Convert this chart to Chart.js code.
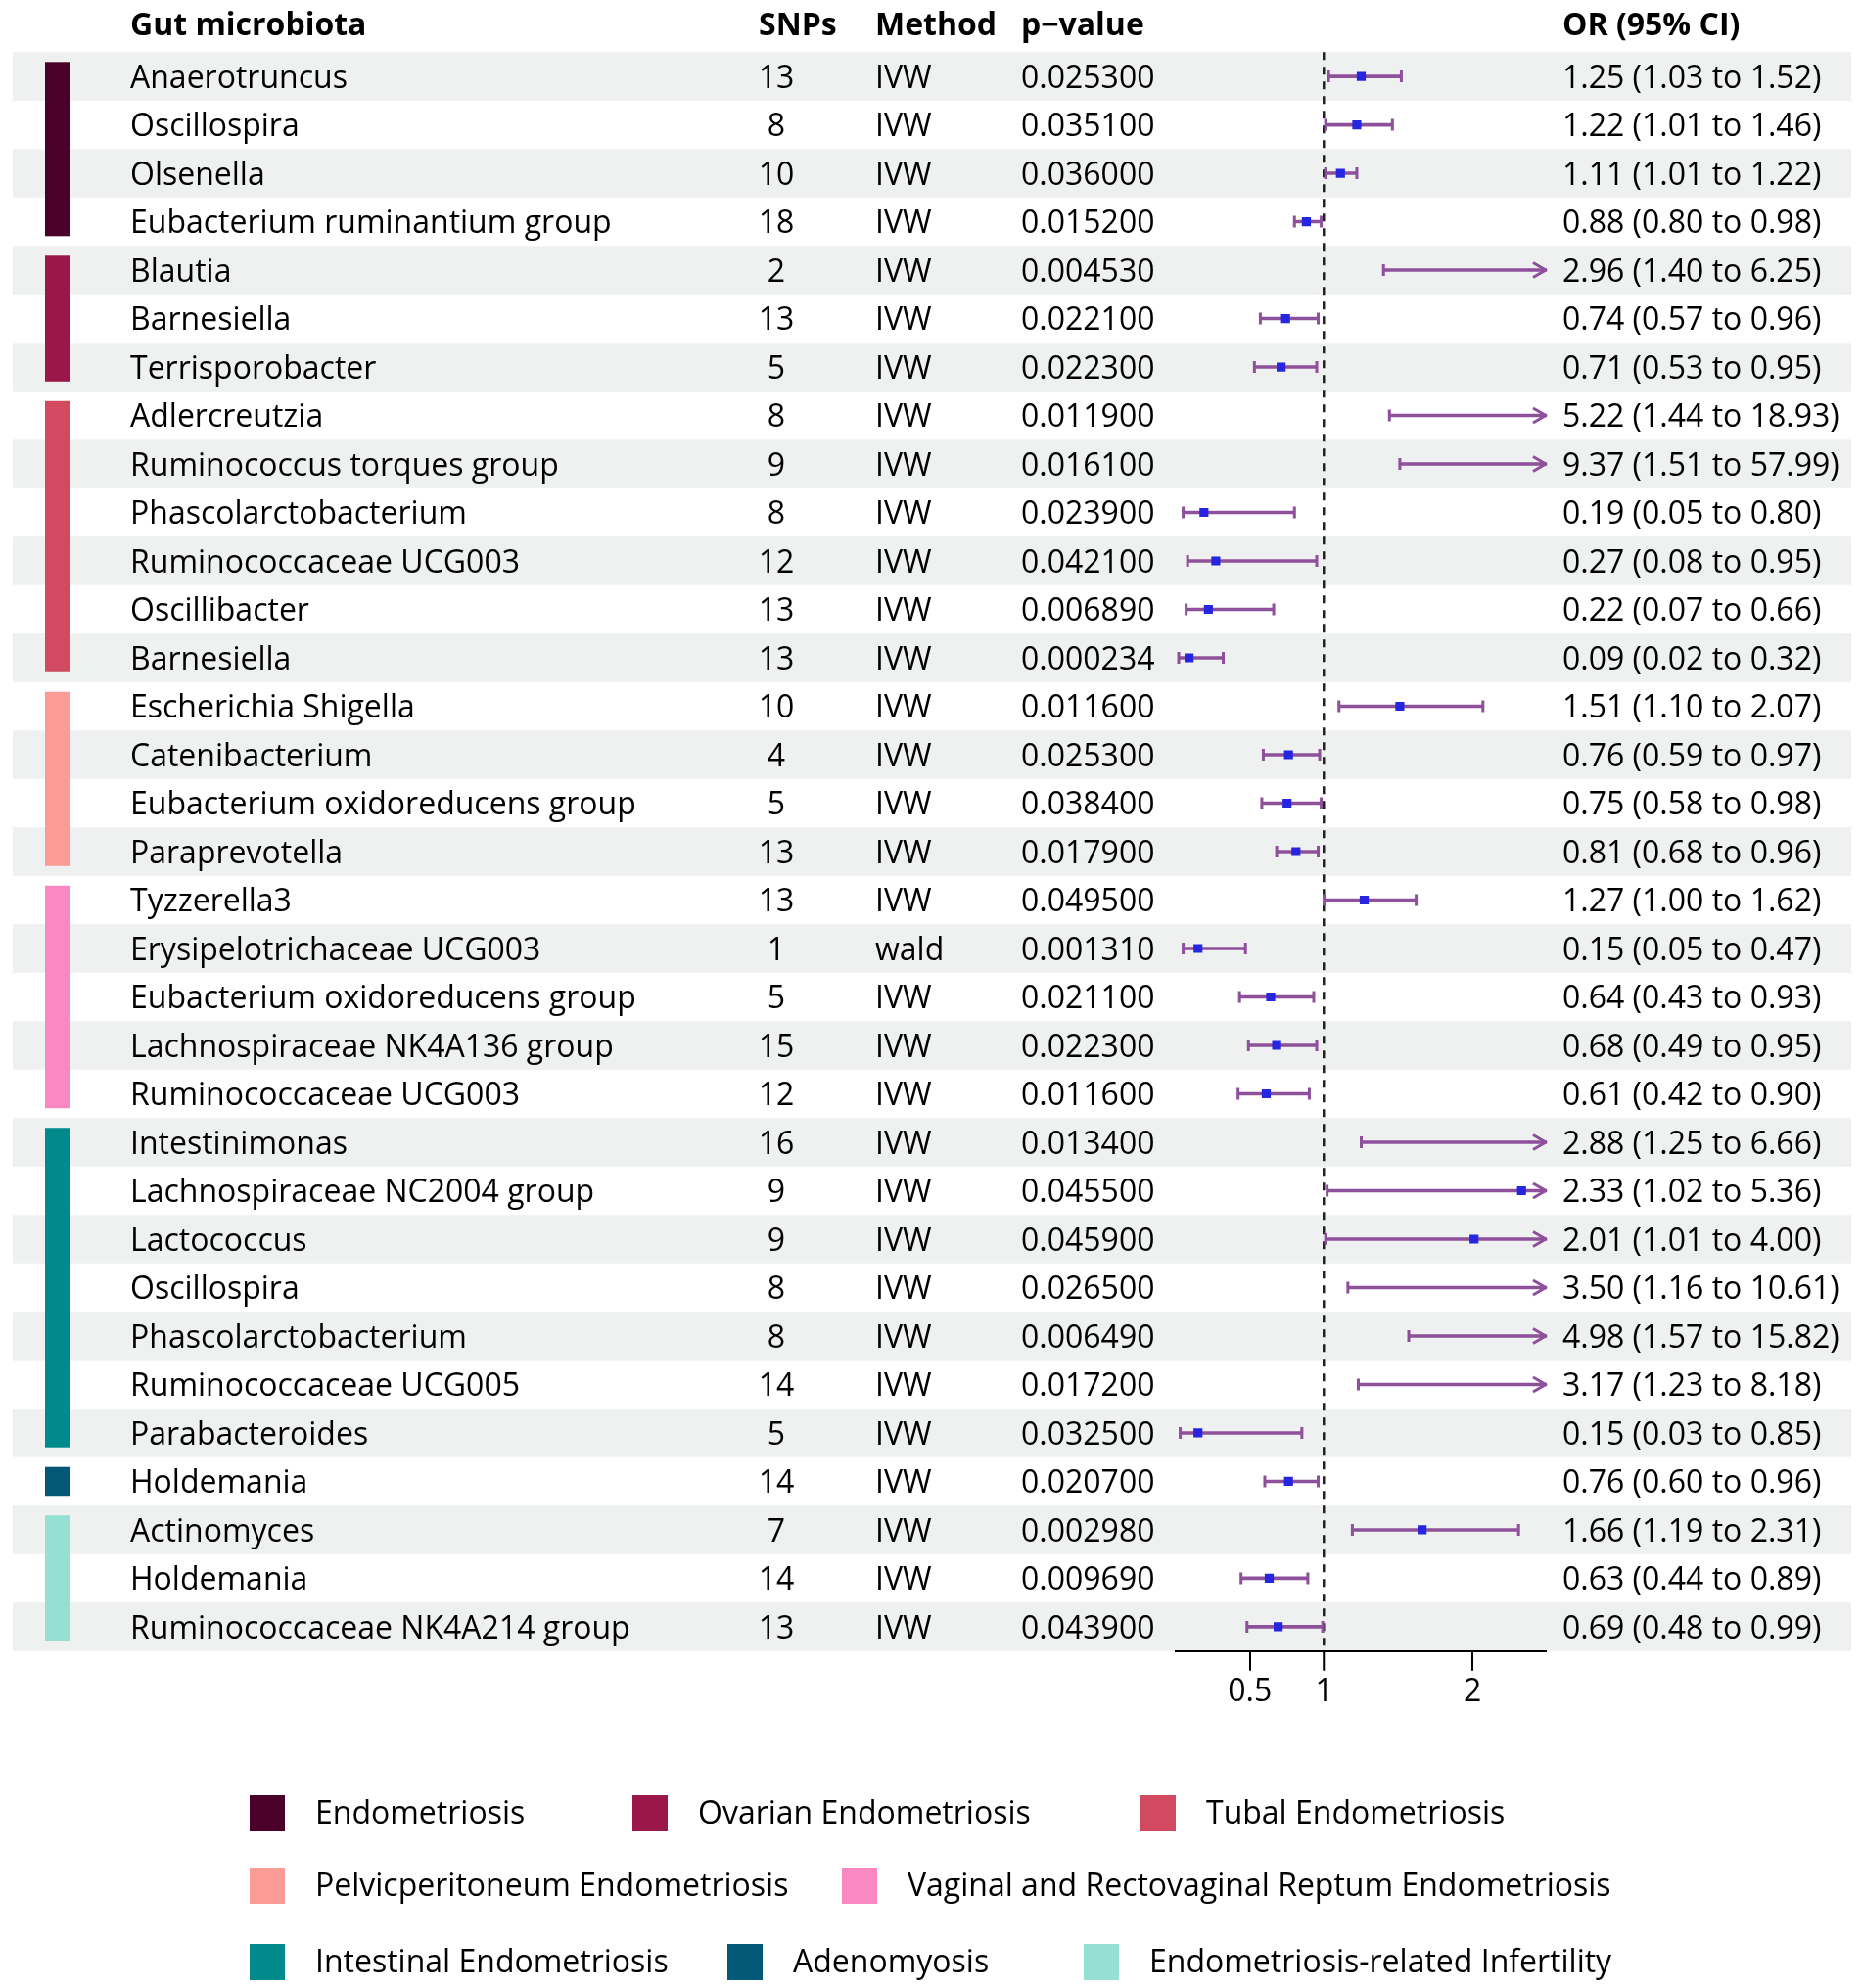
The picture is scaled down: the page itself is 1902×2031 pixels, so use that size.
<!DOCTYPE html>
<html>
<head>
<meta charset="utf-8">
<script src="https://cdn.jsdelivr.net/npm/chart.js@4.4.1/dist/chart.umd.min.js"></script>
<style>
  html, body { margin: 0; padding: 0; background: #ffffff; }
  canvas { display: block; }
</style>
</head>
<body>
<canvas id="forest" width="1902" height="2031"></canvas>
<script>
// ---------------- data ----------------
const GROUPS = [
  'Endometriosis', 'Ovarian Endometriosis', 'Tubal Endometriosis',
  'Pelvicperitoneum Endometriosis', 'Vaginal and Rectovaginal Reptum Endometriosis',
  'Intestinal Endometriosis', 'Adenomyosis', 'Endometriosis-related Infertility'
];
const GROUP_COLORS = ['#4A0028', '#9B1649', '#D24A60', '#FA9B95', '#FA88C3', '#008A8C', '#035878', '#96E0D3'];
const ROW_GROUP = [0,0,0,0, 1,1,1, 2,2,2,2,2,2, 3,3,3,3, 4,4,4,4,4, 5,5,5,5,5,5,5, 6, 7,7,7];

const NAMES = [
  'Anaerotruncus', 'Oscillospira', 'Olsenella', 'Eubacterium ruminantium group',
  'Blautia', 'Barnesiella', 'Terrisporobacter',
  'Adlercreutzia', 'Ruminococcus torques group', 'Phascolarctobacterium', 'Ruminococcaceae UCG003', 'Oscillibacter', 'Barnesiella',
  'Escherichia Shigella', 'Catenibacterium', 'Eubacterium oxidoreducens group', 'Paraprevotella',
  'Tyzzerella3', 'Erysipelotrichaceae UCG003', 'Eubacterium oxidoreducens group', 'Lachnospiraceae NK4A136 group', 'Ruminococcaceae UCG003',
  'Intestinimonas', 'Lachnospiraceae NC2004 group', 'Lactococcus', 'Oscillospira', 'Phascolarctobacterium', 'Ruminococcaceae UCG005', 'Parabacteroides',
  'Holdemania',
  'Actinomyces', 'Holdemania', 'Ruminococcaceae NK4A214 group'
];
const SNPS = [13,8,10,18, 2,13,5, 8,9,8,12,13,13, 10,4,5,13, 13,1,5,15,12, 16,9,9,8,8,14,5, 14, 7,14,13];
const METHODS = ['IVW','IVW','IVW','IVW', 'IVW','IVW','IVW', 'IVW','IVW','IVW','IVW','IVW','IVW',
  'IVW','IVW','IVW','IVW', 'IVW','wald','IVW','IVW','IVW', 'IVW','IVW','IVW','IVW','IVW','IVW','IVW',
  'IVW', 'IVW','IVW','IVW'];
const PVALUES = [0.0253,0.0351,0.036,0.0152, 0.00453,0.0221,0.0223, 0.0119,0.0161,0.0239,0.0421,0.00689,0.000234,
  0.0116,0.0253,0.0384,0.0179, 0.0495,0.00131,0.0211,0.0223,0.0116,
  0.0134,0.0455,0.0459,0.0265,0.00649,0.0172,0.0325, 0.0207, 0.00298,0.00969,0.0439];
const OR = [1.25,1.22,1.11,0.88, 2.96,0.74,0.71, 5.22,9.37,0.19,0.27,0.22,0.09,
  1.51,0.76,0.75,0.81, 1.27,0.15,0.64,0.68,0.61,
  2.88,2.33,2.01,3.50,4.98,3.17,0.15, 0.76, 1.66,0.63,0.69];
const OR_LOW = [1.03,1.01,1.01,0.80, 1.40,0.57,0.53, 1.44,1.51,0.05,0.08,0.07,0.02,
  1.10,0.59,0.58,0.68, 1.00,0.05,0.43,0.49,0.42,
  1.25,1.02,1.01,1.16,1.57,1.23,0.03, 0.60, 1.19,0.44,0.48];
const OR_HIGH = [1.52,1.46,1.22,0.98, 6.25,0.96,0.95, 18.93,57.99,0.80,0.95,0.66,0.32,
  2.07,0.97,0.98,0.96, 1.62,0.47,0.93,0.95,0.90,
  6.66,5.36,4.00,10.61,15.82,8.18,0.85, 0.96, 2.31,0.89,0.99];
const X_TICKS = [0.5, 1, 2];
const X_MIN = 0;
const X_MAX = 2.5;
const REF_VALUE = 1;
const HEADERS = ['Gut microbiota', 'SNPs', 'Method', 'p\u2212value', 'OR (95% CI)'];

// ---------------- style ----------------
const FAMILY = "'Open Sans', 'Noto Sans', sans-serif";
const FONT = { family: FAMILY, size: 32 };
const STRIPE = '#EEF1F0';
const CI_COLOR = '#8E4F9B';
const POINT_COLOR = '#2626E0';
const TEXT = '#000000';

const fmt2 = v => v.toFixed(2);
const OR_LABELS = OR.map((v, i) => `${fmt2(v)} (${fmt2(OR_LOW[i])} to ${fmt2(OR_HIGH[i])})`);
const P_LABELS = PVALUES.map(v => v.toFixed(6));
const SNP_LABELS = SNPS.map(String);

const mctx = document.createElement('canvas').getContext('2d');
mctx.font = `32px ${FAMILY}`;
const snpWidest = Math.max(...SNP_LABELS.map(s => mctx.measureText(s).width));
const SNP_CENTER = 793;

// ---------------- plugins ----------------
const rowsPlugin = {
  id: 'rows',
  beforeDraw(chart) {
    const { ctx } = chart;
    const y = chart.scales.y;
    const step = Math.abs(y.getPixelForValue(1) - y.getPixelForValue(0));
    ctx.save();
    ctx.fillStyle = STRIPE;
    NAMES.forEach((_, i) => {
      if (i % 2 === 0) {
        const c = y.getPixelForValue(i);
        ctx.fillRect(13, c - step / 2, 1878, step);
      }
    });
    GROUPS.forEach((g, gi) => {
      const rows = ROW_GROUP.map((v, i) => (v === gi ? i : -1)).filter(i => i >= 0);
      const t = y.getPixelForValue(rows[0]) - step / 2 + 10;
      const b = y.getPixelForValue(rows[rows.length - 1]) + step / 2 - 10;
      ctx.fillStyle = GROUP_COLORS[gi];
      ctx.fillRect(46, t, 25, b - t);
    });
    ctx.restore();
  }
};

const whiskerPlugin = {
  id: 'whiskers',
  afterDatasetDraw(chart, args) {
    if (args.index !== 1) return;
    const { ctx } = chart;
    const x = chart.scales.x, y = chart.scales.y;
    ctx.save();
    ctx.strokeStyle = CI_COLOR;
    ctx.lineWidth = 3;
    ctx.lineJoin = 'round';
    OR_LOW.forEach((lo, i) => {
      const yc = y.getPixelForValue(i);
      const hi = OR_HIGH[i];
      const xl = x.getPixelForValue(lo);
      ctx.beginPath();
      ctx.moveTo(xl, yc - 6);
      ctx.lineTo(xl, yc + 6);
      if (hi <= x.max) {
        const xh = x.getPixelForValue(hi);
        ctx.moveTo(xh, yc - 6);
        ctx.lineTo(xh, yc + 6);
      } else {
        const xe = x.getPixelForValue(x.max);
        ctx.moveTo(xe - 14, yc - 7.5);
        ctx.lineTo(xe - 1, yc);
        ctx.lineTo(xe - 14, yc + 7.5);
      }
      ctx.stroke();
    });
    ctx.restore();
  }
};

const overlayPlugin = {
  id: 'overlay',
  afterDraw(chart) {
    const { ctx, scales } = chart;
    ctx.save();
    ctx.fillStyle = TEXT;
    ctx.textBaseline = 'middle';
    ctx.textAlign = 'left';
    ctx.font = `bold 32px ${FAMILY}`;
    const hy = 27;
    ctx.fillText(HEADERS[0], scales.y.left, hy);
    ctx.fillText(HEADERS[1], 775, hy);
    ctx.fillText(HEADERS[2], scales.method.left, hy);
    ctx.fillText(HEADERS[3], scales.pval.left, hy);
    ctx.fillText(HEADERS[4], scales.or.left + 16, hy);

    // legend
    const items = [[0, 255, 1853], [1, 646, 1853], [2, 1165, 1853],
                   [3, 255, 1927], [4, 860, 1927],
                   [5, 255, 2005], [6, 743, 2005], [7, 1107, 2005]];
    ctx.font = `32px ${FAMILY}`;
    items.forEach(([gi, lx, ly]) => {
      ctx.fillStyle = GROUP_COLORS[gi];
      ctx.fillRect(lx, ly - 19, 36, 37);
      ctx.fillStyle = TEXT;
      ctx.fillText(GROUPS[gi], lx + 67, ly + 1);
    });
    ctx.restore();
  }
};

const catAxis = (labels, position, weight, width, crossAlign, padding) => ({
  type: 'category', axis: 'y', position, labels, offset: true, weight,
  min: 0, max: NAMES.length - 1,
  grid: { display: false, drawTicks: false, offset: true },
  border: { display: false },
  ticks: { autoSkip: false, crossAlign, padding, labelOffset: 2.5, font: FONT, color: TEXT },
  afterFit: s => {
    s.width = width;
    s.paddingTop = 0;
    s.paddingBottom = 0;
  }
});

new Chart(document.getElementById('forest'), {
  type: 'scatter',
  data: {
    datasets: [
      {
        type: 'scatter', label: 'OR',
        data: OR.map((v, i) => ({ x: v, y: i })),
        xAxisID: 'x', yAxisID: 'y',
        pointStyle: 'rect', pointRadius: 6.5, pointHoverRadius: 6.5,
        backgroundColor: POINT_COLOR, borderWidth: 0, order: 0, clip: 0
      },
      {
        type: 'bar', label: '95% CI',
        data: OR_LOW.map((lo, i) => [lo, OR_HIGH[i]]),
        indexAxis: 'y', xAxisID: 'x', yAxisID: 'y',
        backgroundColor: CI_COLOR, borderWidth: 0, barThickness: 3, order: 1, clip: 0
      }
    ]
  },
  options: {
    responsive: false,
    animation: false,
    devicePixelRatio: 1,
    events: [],
    layout: { padding: { left: 133, top: 53.3, right: 0, bottom: 244.3 } },
    plugins: { legend: { display: false }, tooltip: { enabled: false } },
    scales: {
      x: {
        type: 'linear', position: 'bottom', min: X_MIN, max: X_MAX, offset: false,
        afterBuildTicks: s => { s.ticks = X_TICKS.map(v => ({ value: v })); },
        ticks: { font: FONT, color: TEXT, padding: 3, autoSkip: false, maxRotation: 0, callback: v => String(v) },
        grid: {
          display: true, drawOnChartArea: true, offset: false,
          color: c => (c.tick && c.tick.value === REF_VALUE) ? '#222222' : 'rgba(0,0,0,0)',
          lineWidth: c => (c.tick && c.tick.value === REF_VALUE) ? 2.5 : 0,
          drawTicks: true, tickLength: 20, tickWidth: 2, tickColor: '#000000'
        },
        border: { display: true, color: '#000000', width: 2, dash: [8, 7] },
        afterFit: s => { s.height = 100; }
      },
      y: catAxis(NAMES, 'left', 4, 607, 'far', 0),
      snps: catAxis(SNP_LABELS, 'left', 3, 154, 'center', 894 - SNP_CENTER - snpWidest / 2),
      method: catAxis(METHODS, 'left', 2, 149, 'far', 0),
      pval: catAxis(P_LABELS, 'left', 1, 158, 'far', 0),
      or: catAxis(OR_LABELS, 'right', 1, 322, 'near', 16)
    }
  },
  plugins: [rowsPlugin, whiskerPlugin, overlayPlugin]
});
</script>
</body>
</html>
